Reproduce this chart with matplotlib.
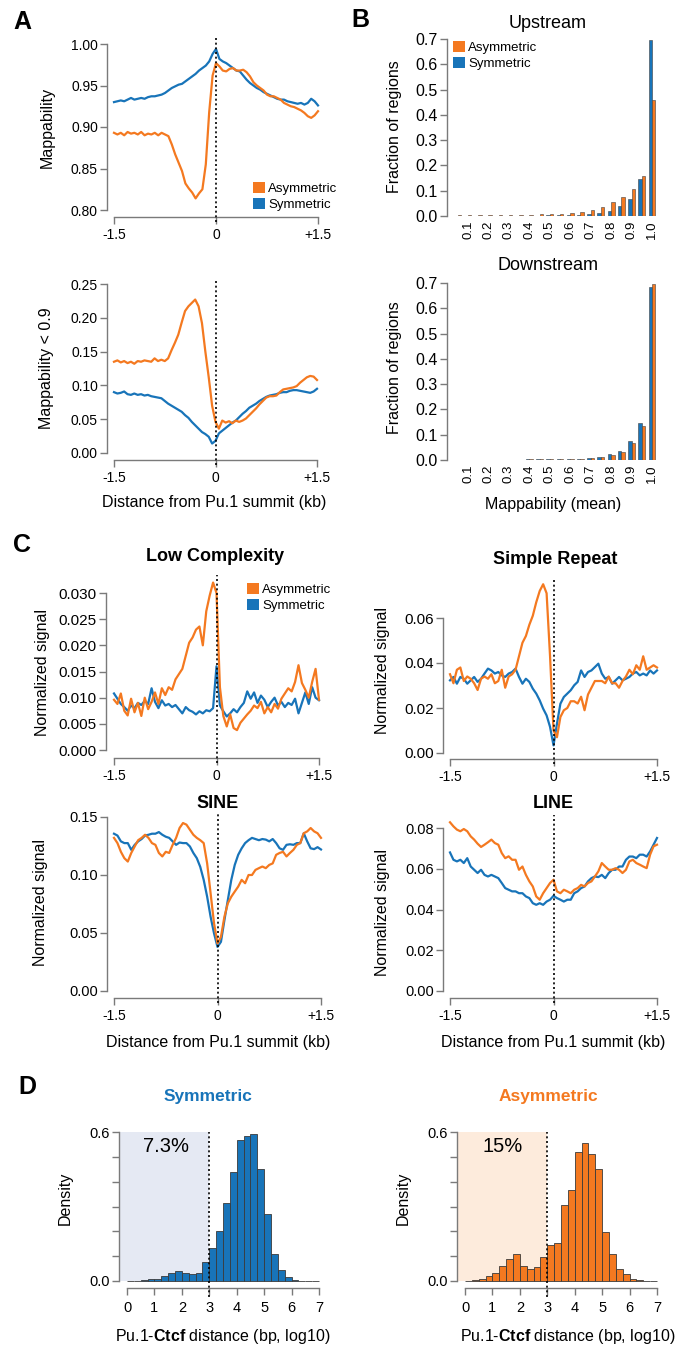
import numpy as np
import matplotlib
matplotlib.use('Agg')
import matplotlib.pyplot as plt
from matplotlib.patches import Patch, Rectangle

plt.rcParams['font.family'] = ['Liberation Sans', 'DejaVu Sans']
plt.rcParams['mathtext.fontset'] = 'custom'
plt.rcParams['mathtext.rm'] = 'Liberation Sans'
plt.rcParams['mathtext.bf'] = 'Liberation Sans:bold'

# ---------------- DATA ----------------
pos_kb = np.linspace(-1.5, 1.5, 61)

A_top_sym = [0.930,0.931,0.932,0.931,0.933,0.935,0.933,0.934,0.935,0.934,
             0.936,0.937,0.937,0.938,0.939,0.941,0.944,0.947,0.949,0.951,
             0.952,0.955,0.958,0.961,0.964,0.968,0.971,0.974,0.979,0.988,
             0.994,0.982,0.979,0.977,0.974,0.971,0.968,0.967,0.962,0.957,
             0.953,0.950,0.947,0.945,0.942,0.940,0.938,0.936,0.934,0.933,
             0.933,0.931,0.930,0.929,0.928,0.929,0.927,0.929,0.934,0.931,0.926]
A_top_asym = [0.893,0.891,0.893,0.890,0.894,0.892,0.893,0.891,0.894,0.890,
              0.892,0.891,0.893,0.890,0.893,0.891,0.889,0.879,0.867,0.857,
              0.847,0.832,0.826,0.821,0.814,0.820,0.825,0.855,0.918,0.962,
              0.977,0.973,0.968,0.967,0.970,0.971,0.968,0.968,0.969,0.966,
              0.961,0.954,0.950,0.947,0.944,0.939,0.937,0.937,0.935,0.933,
              0.929,0.927,0.925,0.924,0.922,0.920,0.917,0.913,0.911,0.914,0.919]
A_bot_asym = [0.135,0.137,0.134,0.136,0.133,0.135,0.132,0.136,0.135,0.137,
              0.136,0.135,0.140,0.136,0.138,0.136,0.140,0.152,0.163,0.175,
              0.193,0.210,0.217,0.222,0.227,0.217,0.192,0.150,0.112,0.070,
              0.046,0.036,0.048,0.045,0.047,0.044,0.048,0.046,0.048,0.051,
              0.056,0.061,0.066,0.072,0.077,0.082,0.084,0.084,0.085,0.090,
              0.094,0.095,0.096,0.097,0.099,0.104,0.108,0.112,0.114,0.113,0.108]
A_bot_sym = [0.090,0.088,0.089,0.091,0.087,0.086,0.088,0.086,0.087,0.085,
             0.086,0.084,0.083,0.082,0.081,0.077,0.073,0.070,0.067,0.064,
             0.061,0.056,0.052,0.046,0.041,0.036,0.031,0.028,0.024,0.014,
             0.018,0.029,0.033,0.037,0.041,0.045,0.048,0.053,0.058,0.062,
             0.067,0.070,0.073,0.077,0.080,0.083,0.085,0.086,0.087,0.089,
             0.090,0.090,0.092,0.093,0.093,0.092,0.091,0.090,0.089,0.091,0.095]

map_bins = ['0.05','0.1','0.15','0.2','0.25','0.3','0.35','0.4','0.45','0.5',
            '0.55','0.6','0.65','0.7','0.75','0.8','0.85','0.9','0.95','1.0']
up_sym = [0.0005,0.0005,0.001,0.001,0.001,0.001,0.001,0.001,0.001,0.002,
          0.002,0.003,0.004,0.008,0.013,0.021,0.039,0.066,0.146,0.695]
up_asym = [0.002,0.003,0.003,0.004,0.004,0.004,0.004,0.005,0.006,0.007,
           0.009,0.011,0.016,0.024,0.037,0.057,0.074,0.108,0.159,0.458]
down_sym = [0.001,0.001,0.001,0.001,0.001,0.001,0.001,0.002,0.002,0.003,
            0.003,0.004,0.005,0.008,0.012,0.024,0.034,0.075,0.145,0.683]
down_asym = [0.001,0.001,0.001,0.001,0.001,0.001,0.001,0.002,0.002,0.004,
             0.003,0.004,0.005,0.008,0.013,0.021,0.032,0.067,0.134,0.695]

LC_asym = [0.0096,0.0088,0.0108,0.0075,0.0066,0.0098,0.0072,0.0090,0.0065,0.0100,
           0.0078,0.0092,0.0110,0.0088,0.0118,0.0105,0.0120,0.0115,0.0135,0.0145,
           0.0155,0.0180,0.0205,0.0215,0.0230,0.0236,0.0200,0.0265,0.0295,0.0320,
           0.0300,0.0120,0.0065,0.0045,0.0068,0.0042,0.0038,0.0052,0.0060,0.0068,
           0.0075,0.0085,0.0080,0.0092,0.0070,0.0082,0.0072,0.0088,0.0079,0.0098,
           0.0108,0.0118,0.0112,0.0130,0.0162,0.0128,0.0115,0.0100,0.0130,0.0155,0.0096]
LC_sym = [0.0108,0.0098,0.0088,0.0082,0.0075,0.0085,0.0080,0.0090,0.0086,0.0094,
          0.0088,0.0118,0.0092,0.0080,0.0095,0.0085,0.0088,0.0082,0.0086,0.0078,
          0.0070,0.0082,0.0076,0.0073,0.0068,0.0074,0.0070,0.0076,0.0074,0.0080,
          0.0160,0.0085,0.0074,0.0064,0.0070,0.0078,0.0072,0.0082,0.0090,0.0112,
          0.0098,0.0110,0.0090,0.0104,0.0096,0.0082,0.0092,0.0100,0.0085,0.0092,
          0.0082,0.0090,0.0086,0.0098,0.0070,0.0090,0.0110,0.0088,0.0120,0.0100,0.0095]
SR_asym = [0.035,0.031,0.037,0.038,0.032,0.034,0.033,0.031,0.028,0.033,
           0.034,0.033,0.035,0.031,0.032,0.037,0.029,0.034,0.035,0.037,
           0.043,0.049,0.052,0.057,0.061,0.067,0.072,0.075,0.071,0.043,
           0.010,0.007,0.016,0.019,0.020,0.023,0.023,0.022,0.025,0.019,
           0.026,0.029,0.032,0.032,0.032,0.031,0.034,0.031,0.031,0.029,
           0.032,0.034,0.037,0.035,0.039,0.037,0.043,0.037,0.038,0.039,0.038]
SR_sym = [0.0323,0.0338,0.0308,0.0338,0.0330,0.0308,0.0323,0.0338,0.0316,0.0330,
          0.0353,0.0375,0.0367,0.0353,0.0360,0.0345,0.0338,0.0353,0.0360,0.0375,
          0.0338,0.0308,0.0330,0.0316,0.0286,0.0264,0.0234,0.0197,0.0167,0.0116,
          0.0034,0.0130,0.0219,0.0249,0.0264,0.0279,0.0301,0.0316,0.0367,0.0338,
          0.0360,0.0367,0.0382,0.0397,0.0353,0.0330,0.0338,0.0308,0.0323,0.0338,
          0.0323,0.0330,0.0338,0.0353,0.0360,0.0345,0.0353,0.0345,0.0367,0.0353,0.0367]
SINE_sym = [0.1356,0.1340,0.1290,0.1275,0.1275,0.1217,0.1260,0.1290,0.1310,0.1340,
            0.1347,0.1356,0.1356,0.1370,0.1347,0.1330,0.1320,0.1290,0.1260,0.1280,
            0.1275,0.1275,0.1246,0.1190,0.1145,0.1070,0.0958,0.0813,0.0640,0.0496,
            0.0380,0.0424,0.0610,0.0785,0.0958,0.1087,0.1174,0.1230,0.1275,0.1300,
            0.1320,0.1310,0.1300,0.1310,0.1305,0.1290,0.1310,0.1275,0.1230,0.1217,
            0.1260,0.1265,0.1260,0.1275,0.1275,0.1360,0.1290,0.1230,0.1223,0.1240,0.1220]
SINE_asym = [0.1320,0.1275,0.1200,0.1145,0.1116,0.1190,0.1246,0.1300,0.1320,0.1347,
             0.1320,0.1275,0.1260,0.1190,0.1160,0.1200,0.1190,0.1260,0.1320,0.1405,
             0.1448,0.1434,0.1390,0.1347,0.1320,0.1300,0.1275,0.1100,0.0842,0.0583,
             0.0410,0.0467,0.0640,0.0756,0.0813,0.0857,0.0900,0.0958,0.0929,0.1000,
             0.1000,0.1044,0.1059,0.1073,0.1059,0.1087,0.1100,0.1174,0.1190,0.1200,
             0.1160,0.1190,0.1217,0.1260,0.1275,0.1360,0.1376,0.1405,0.1376,0.1360,0.1320]
LINE_asym = [0.0828,0.0808,0.0792,0.0784,0.0795,0.0784,0.0759,0.0743,0.0723,0.0707,
             0.0718,0.0730,0.0743,0.0726,0.0718,0.0677,0.0652,0.0661,0.0644,0.0644,
             0.0595,0.0611,0.0570,0.0538,0.0513,0.0464,0.0448,0.0480,0.0505,0.0530,
             0.0546,0.0489,0.0480,0.0497,0.0489,0.0480,0.0497,0.0505,0.0521,0.0513,
             0.0530,0.0538,0.0562,0.0587,0.0628,0.0611,0.0595,0.0595,0.0603,0.0595,
             0.0579,0.0595,0.0636,0.0644,0.0628,0.0620,0.0611,0.0603,0.0669,0.0710,0.0718]
LINE_sym = [0.0680,0.0644,0.0636,0.0644,0.0628,0.0652,0.0611,0.0595,0.0579,0.0595,
            0.0570,0.0562,0.0570,0.0562,0.0554,0.0530,0.0505,0.0497,0.0489,0.0489,
            0.0480,0.0480,0.0464,0.0456,0.0431,0.0423,0.0431,0.0423,0.0439,0.0448,
            0.0467,0.0456,0.0448,0.0439,0.0448,0.0448,0.0480,0.0489,0.0505,0.0513,
            0.0538,0.0554,0.0562,0.0559,0.0570,0.0554,0.0579,0.0595,0.0595,0.0611,
            0.0611,0.0644,0.0660,0.0660,0.0652,0.0669,0.0669,0.0660,0.0685,0.0718,0.0751]

hist_left = np.arange(0, 7, 0.25)
sym_density = [0.001,0.002,0.003,0.009,0.009,0.021,0.032,0.041,0.033,0.027,
               0.033,0.075,0.132,0.202,0.313,0.440,0.566,0.584,0.590,0.452,
               0.269,0.108,0.043,0.015,0.003,0.001,0.001,0.0005]
asym_density = [0.001,0.003,0.008,0.021,0.033,0.059,0.090,0.108,0.059,0.047,
                0.057,0.096,0.144,0.155,0.305,0.365,0.521,0.556,0.512,0.450,
                0.199,0.108,0.049,0.028,0.008,0.003,0.0005,0.0]
sym_close_pct = '7.3%'
asym_close_pct = '15%'

# ---------------- STYLE / LAYOUT ----------------
W, H = 687, 1348
fig = plt.figure(figsize=(W / 100, H / 100), dpi=100)
ORANGE = '#F47920'
BLUE = '#1874B9'
AXC = '#7a7a7a'
LW = 1.6


def make_ax(box, xa, ya):
    left, right, top, bottom = box
    ax = fig.add_axes([left / W, 1 - bottom / H, (right - left) / W, (bottom - top) / H])
    d1, p1, d2, p2 = xa
    s = (p2 - p1) / (d2 - d1)
    ax.set_xlim(d1 + (left - p1) / s, d1 + (right - p1) / s)
    e1, q1, e2, q2 = ya
    t = (q2 - q1) / (e2 - e1)
    ax.set_ylim(e1 + (bottom - q1) / t, e1 + (top - q1) / t)
    for sp in ['top', 'right']:
        ax.spines[sp].set_visible(False)
    for sp in ['left', 'bottom']:
        ax.spines[sp].set_color(AXC)
        ax.spines[sp].set_linewidth(1.0)
    ax.tick_params(axis='both', direction='out', color=AXC, length=5, width=1.0,
                   labelcolor='black')
    ax.tick_params(axis='x', pad=3)
    ax.tick_params(axis='y', pad=1.5)
    ax.patch.set_alpha(0)
    return ax


def ylab(ax, box, text, px, py, size=11.5):
    left, right, top, bottom = box
    ax.set_ylabel(text, fontsize=size, va='center', ha='center')
    ax.yaxis.set_label_coords((px - left) / (right - left), (bottom - py) / (bottom - top))


def xlab(ax, box, text, px, py, size=11.5):
    left, right, top, bottom = box
    ax.set_xlabel(text, fontsize=size, va='center', ha='center')
    ax.xaxis.set_label_coords((px - left) / (right - left), (bottom - py) / (bottom - top))


def title(ax, box, text, px, py, size=13, **kw):
    left, right, top, bottom = box
    ax.set_title(text, x=(px - left) / (right - left), y=(bottom - py) / (bottom - top),
                 va='center', ha='center', pad=0, fontsize=size, **kw)


def vdot(ax, box, xval, top_px, bot_px):
    left, right, top, bottom = box
    ax.axvline(xval, ymin=(bottom - bot_px) / (bottom - top), ymax=(bottom - top_px) / (bottom - top),
               color='black', lw=1.2, ls=(0, (1.2, 1.6)), clip_on=False, zorder=5)


def legend(ax, x, y, fs):
    handles = [Patch(facecolor=ORANGE, edgecolor='none', label='Asymmetric'),
               Patch(facecolor=BLUE, edgecolor='none', label='Symmetric')]
    ax.legend(handles=handles, loc='upper left', bbox_to_anchor=(x / W, 1 - y / H),
              bbox_transform=fig.transFigure, frameon=False, fontsize=fs,
              handlelength=0.9, handleheight=0.9, handletextpad=0.25,
              labelspacing=0.2, borderpad=0, borderaxespad=0)


def profile(ax, box, sym, asym, yticks, ylabels, ytick_fs, xtick_fs=10, dot_top=None):
    ax.plot(pos_kb, sym, color=BLUE, lw=LW, zorder=3)
    ax.plot(pos_kb, asym, color=ORANGE, lw=LW, zorder=4)
    ax.set_xticks([-1.5, 0, 1.5])
    ax.set_xticklabels(['-1.5', '0', '+1.5'], fontsize=xtick_fs)
    ax.set_yticks(yticks)
    ax.set_yticklabels(ylabels, fontsize=ytick_fs)
    ax.spines['bottom'].set_bounds(-1.5, 1.5)
    ax.spines['left'].set_bounds(yticks[0], yticks[-1])
    vdot(ax, box, 0, dot_top if dot_top else box[2], box[3] + 5)


def letter(ch, x, y):
    fig.text(x / W, 1 - y / H, ch, fontsize=18, fontweight='bold', ha='center', va='center')


# ---------- Panel A ----------
bA1 = (107, 325, 37, 217)
ax = make_ax(bA1, (-1.5, 114, 1.5, 318), (0.80, 210, 1.00, 44))
profile(ax, bA1, A_top_sym, A_top_asym, [0.80, 0.85, 0.90, 0.95, 1.00],
        ['0.80', '0.85', '0.90', '0.95', '1.00'], 10)
ylab(ax, bA1, 'Mappability', 47, 127)
legend(ax, 253, 182, 9.5)

bA2 = (107, 325, 281, 460)
ax = make_ax(bA2, (-1.5, 114, 1.5, 317), (0.0, 453, 0.25, 284))
profile(ax, bA2, A_bot_sym, A_bot_asym, [0.0, 0.05, 0.10, 0.15, 0.20, 0.25],
        ['0.00', '0.05', '0.10', '0.15', '0.20', '0.25'], 10)
ylab(ax, bA2, 'Mappability < 0.9', 47, 368)
xlab(ax, bA2, 'Distance from Pu.1 summit (kb)', 214, 502)
letter('A', 22, 22)

# ---------- Panel B ----------
idx = np.arange(len(map_bins))
bw = 1 / 3


def barpanel(box, ya, sym, asym, ttl, ttl_xy, ylab_xy, show_xlabel):
    ax = make_ax(box, (1, 468, 19, 652), ya)
    ax.bar(idx - bw / 2, sym, width=bw, color=BLUE, edgecolor='#404040', lw=0.4)
    ax.bar(idx + bw / 2, asym, width=bw, color=ORANGE, edgecolor='#404040', lw=0.4)
    ax.spines['bottom'].set_visible(False)
    ax.set_xticks(idx[1::2])
    ax.set_xticklabels(map_bins[1::2], rotation=90, fontsize=9.5)
    ax.tick_params(axis='x', length=0, pad=3)
    yt = [0.0, 0.1, 0.2, 0.3, 0.4, 0.5, 0.6, 0.7]
    ax.set_yticks(yt)
    ax.set_yticklabels(['%.1f' % v for v in yt], fontsize=11.5)
    ax.spines['left'].set_bounds(0, 0.7)
    title(ax, box, ttl, ttl_xy[0], ttl_xy[1], size=13)
    ylab(ax, box, 'Fraction of regions', ylab_xy[0], ylab_xy[1])
    if show_xlabel:
        xlab(ax, box, 'Mappability (mean)', 553, 505)
    return ax


bB1 = (447, 662, 35, 216)
ax = barpanel(bB1, (0, 216, 0.7, 39), up_sym, up_asym, 'Upstream', (548, 23), (395, 127), False)
legend(ax, 453, 41, 9.5)
bB2 = (447, 662, 278, 460)
barpanel(bB2, (0, 460, 0.7, 283), down_sym, down_asym, 'Downstream', (548, 265), (395, 368), True)
letter('B', 360, 20)

# ---------- Panel C ----------
bLC = (106, 326, 575, 758)
ax = make_ax(bLC, (-1.5, 114, 1.5, 319), (0, 750, 0.030, 593))
yt = [0.0, 0.005, 0.010, 0.015, 0.020, 0.025, 0.030]
profile(ax, bLC, LC_sym, LC_asym, yt, ['%.3f' % v for v in yt], 11)
title(ax, bLC, 'Low Complexity', 215, 556, fontweight='bold')
ylab(ax, bLC, 'Normalized signal', 42, 673)
legend(ax, 247, 583, 9.5)

bSR = (443, 664, 578, 759)
ax = make_ax(bSR, (-1.5, 450, 1.5, 657), (0, 753, 0.06, 618))
yt = [0.0, 0.02, 0.04, 0.06]
profile(ax, bSR, SR_sym, SR_asym, yt, ['%.2f' % v for v in yt], 11)
title(ax, bSR, 'Simple Repeat', 555, 560, fontweight='bold')
ylab(ax, bSR, 'Normalized signal', 382, 670)

bSI = (107, 328, 813, 998)
ax = make_ax(bSI, (-1.5, 114, 1.5, 321), (0, 991, 0.15, 817))
yt = [0.0, 0.05, 0.10, 0.15]
profile(ax, bSI, SINE_sym, SINE_asym, yt, ['%.2f' % v for v in yt], 10.5)
title(ax, bSI, 'SINE', 218, 803, fontweight='bold')
ylab(ax, bSI, 'Normalized signal', 40, 903)
xlab(ax, bSI, 'Distance from Pu.1 summit (kb)', 218, 1043)

bLI = (443, 664, 815, 998)
ax = make_ax(bLI, (-1.5, 450, 1.5, 657), (0, 991, 0.08, 828))
yt = [0.0, 0.02, 0.04, 0.06, 0.08]
profile(ax, bLI, LINE_sym, LINE_asym, yt, ['%.2f' % v for v in yt], 10.5)
title(ax, bLI, 'LINE', 553, 803, fontweight='bold')
ylab(ax, bLI, 'Normalized signal', 382, 912)
xlab(ax, bLI, 'Distance from Pu.1 summit (kb)', 553, 1043)
letter('C', 22, 545)

# ---------- Panel D ----------


def histpanel(box, xa, dens, color, shade, ttl, ttl_x, pct, pct_x, ylab_x, xlab_x):
    ax = make_ax(box, xa, (0, 1281, 0.6, 1132))
    x0 = ax.get_xlim()[0]
    ax.add_patch(Rectangle((x0, 0), 3 - x0, 0.6, facecolor=shade, edgecolor='none', zorder=0))
    ax.bar(hist_left, dens, width=0.25, align='edge', color=color, edgecolor='#3a3a3a',
           lw=0.6, zorder=2)
    vdot(ax, box, 3, 1132, 1297)
    ax.set_xticks(range(8))
    ax.set_xticklabels([str(i) for i in range(8)], fontsize=10.5)
    ax.tick_params(axis='x', pad=4)
    yt = [0.0, 0.1, 0.2, 0.3, 0.4, 0.5, 0.6]
    ax.set_yticks(yt)
    ax.set_yticklabels(['0.0', '', '', '', '', '', '0.6'], fontsize=10.5)
    ax.spines['bottom'].set_bounds(0, 7)
    ax.spines['left'].set_bounds(0, 0.6)
    title(ax, box, ttl, ttl_x, 1096, size=12.5, fontweight='bold', color=color)
    ylab(ax, box, 'Density', ylab_x, 1198)
    xlab(ax, box, r'Pu.1-$\mathbf{Ctcf}$ distance (bp, log10)', xlab_x, 1337)
    fig.text(pct_x / W, 1 - 1146 / H, pct, fontsize=14.5, ha='center', va='center')
    return ax


histpanel((119, 327, 1126, 1288), (0, 127, 7, 319), sym_density, BLUE, '#E5E9F3',
          'Symmetric', 208, sym_close_pct, 166, 65, 223)
histpanel((457, 665, 1126, 1288), (0, 465, 7, 657), asym_density, ORANGE, '#FDEBDC',
          'Asymmetric', 548, asym_close_pct, 503, 403, 568)
letter('D', 27, 1087)

fig.savefig('out.png', dpi=100)
